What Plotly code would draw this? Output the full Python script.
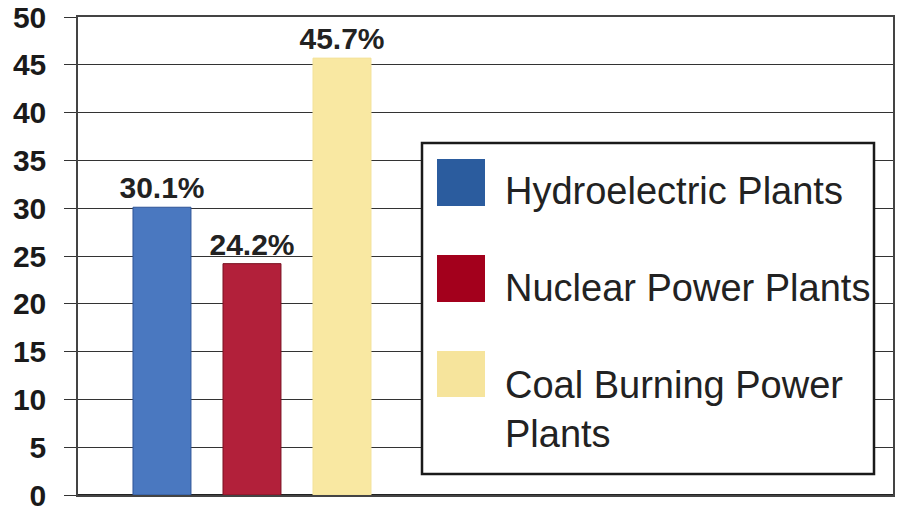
import plotly.graph_objects as go

# Share of electricity by plant type (percent)
categories = ["Hydroelectric Plants", "Nuclear Power Plants", "Coal Burning Power Plants"]
values = [30.1, 24.2, 45.7]
legend_labels = ["Hydroelectric Plants", "Nuclear Power Plants", "Coal Burning Power<br>Plants"]
y_ticks = [0, 5, 10, 15, 20, 25, 30, 35, 40, 45, 50]

bar_colors = ["#4a78c0", "#b2203a", "#f9e8a2"]
bar_edges = ["#2f5597", "#7a1020", "#f3e29a"]
swatch_colors = ["#2b5c9e", "#a3001c", "#f6e49c"]

W, H = 901, 511
M_L, M_R, M_T, M_B = 78, 8, 17, 16

FONT = "Liberation Sans, Arial, Helvetica, sans-serif"


def px_x(x):
    return (x - M_L) / (W - M_L - M_R)


def px_y(y):
    return 1 - (y - M_T) / (H - M_T - M_B)


fig = go.Figure(
    go.Bar(
        x=categories,
        y=values,
        marker=dict(color=bar_colors, line=dict(color=bar_edges, width=1)),
        texttemplate="%{y:.1f}%",
        textposition="outside",
        constraintext="none",
        cliponaxis=False,
        textfont=dict(family=FONT, size=30, color="#222222", weight="bold"),
        showlegend=False,
        hoverinfo="skip",
    )
)

# Legend panel built from shapes and text
shapes = [
    dict(type="rect", xref="paper", yref="paper",
         x0=px_x(422), x1=px_x(874), y0=px_y(474), y1=px_y(143),
         line=dict(color="#1a1a1a", width=2.5), fillcolor="white", layer="above")
]
swatch_boxes = [(159, 206), (255, 302), (351, 397)]
text_centers = [191, 288, 409]
annotations = []
for (top, bottom), color, label, yc in zip(swatch_boxes, swatch_colors, legend_labels, text_centers):
    shapes.append(dict(type="rect", xref="paper", yref="paper",
                       x0=px_x(437), x1=px_x(485), y0=px_y(bottom), y1=px_y(top),
                       line=dict(width=0), fillcolor=color, layer="above"))
    annotations.append(dict(xref="paper", yref="paper", x=px_x(503), y=px_y(yc),
                            xanchor="left", yanchor="middle", align="left",
                            text=label, showarrow=False,
                            font=dict(family=FONT, size=38, color="#222222")))

fig.update_layout(
    width=W, height=H,
    margin=dict(l=M_L, r=M_R, t=M_T, b=M_B, autoexpand=False),
    paper_bgcolor="white", plot_bgcolor="white",
    bargap=0.356,
    shapes=shapes,
    annotations=annotations,
    xaxis=dict(
        type="category", range=[-0.933, 8.122], automargin=False,
        showgrid=False, showticklabels=False, ticks="",
        showline=True, linecolor="#444444", linewidth=1.5, mirror=True,
    ),
    yaxis=dict(
        range=[0, 50], tickvals=y_ticks, automargin=False,
        showgrid=True, gridcolor="#333333", gridwidth=1.3,
        zeroline=True, zerolinecolor="#222222", zerolinewidth=2,
        ticks="outside", ticklen=12, tickcolor="#333333", tickwidth=1.3,
        ticklabelstandoff=12, ticklabeloverflow="allow",
        showline=True, linecolor="#444444", linewidth=1.5, mirror=True,
        tickfont=dict(family=FONT, size=30, color="#1a1a1a", weight="bold"),
    ),
)

fig.write_html("out.html")
